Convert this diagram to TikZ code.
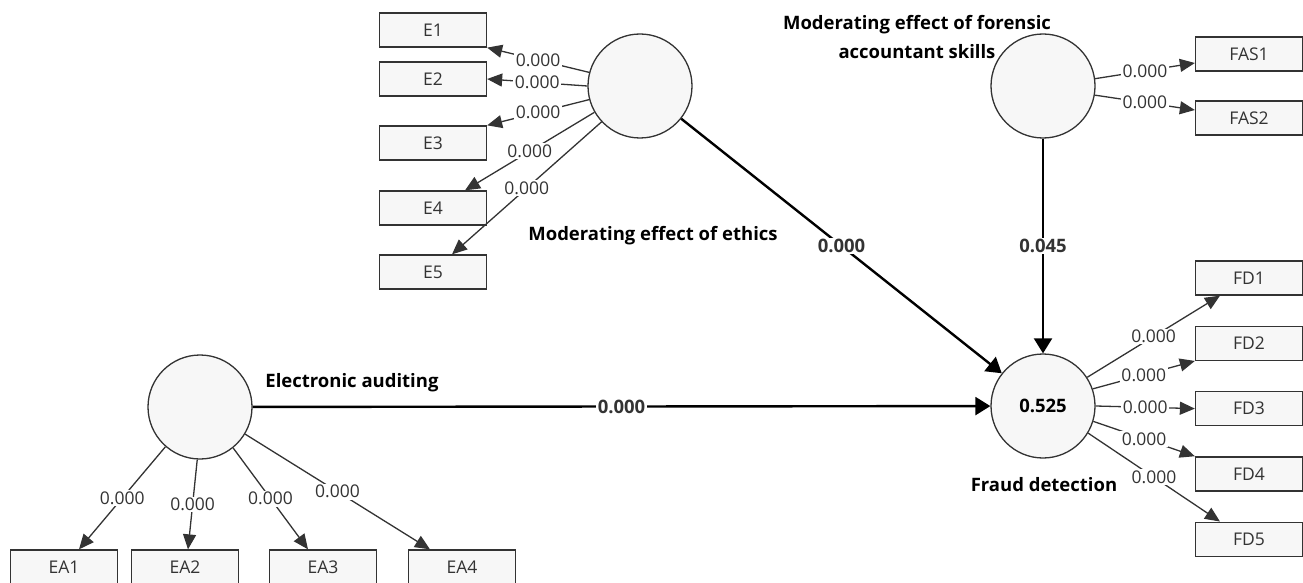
\documentclass[tikz,border=0pt]{standalone}
\usepackage{fontspec}
\setmainfont{Open Sans}
\usetikzlibrary{arrows.meta, positioning, calc}
\definecolor{linegray}{HTML}{333333}
\definecolor{shapefill}{HTML}{F7F7F7}
\tikzset{
    % Define style for latent variables
    latent/.style={
           circle,
           draw=linegray, line width=1.3pt,
           fill=shapefill,
           minimum size=104pt,
           inner sep=0pt,
           font=\fontsize{18.5}{22}\selectfont\bfseries},
    % Define style for indicator boxes
    ind/.style={
           rectangle,
           draw=linegray, line width=1.3pt,
           fill=shapefill,
           minimum width=107pt,
           minimum height=34pt,
           inner sep=0pt,
           text=black!80},
    % Define style for construct names
    tag/.style={
           font=\fontsize{18.5}{28.5}\selectfont\bfseries,
           align=center},
    % Define loading arrow style
    load/.style={
           -{Triangle[length=15pt,width=13pt]},
           line width=1.3pt,
           draw=linegray},
    % Define path arrow style
    struct/.style={
           -{Triangle[length=15pt,width=18pt]},
           line width=2.4pt},
    % Define coefficient labels
    coef/.style={
           fill=white,
           inner sep=1.5pt,
           text=black!80},
    pathcoef/.style={
           coef,
           font=\fontsize{18.5}{22}\selectfont\bfseries}
}
\begin{document}
\begin{tikzpicture}[x=1pt, y=-1pt, node distance=30pt, font=\fontsize{17.5}{21}\selectfont]
	\useasboundingbox (0,0) rectangle (1303,583);
	%
	% latent variables
	%
	\node[latent] (eth) at (640,86) {};
	\node[latent] (fas) at (1043,86) {};
	\node[latent] (ea) at (200,407) {};
	\node[latent] (fd) at (1043,406) {0.525};
	\node[tag] (ethname) at (653,236) {Moderating effect of ethics};
	\node[tag] (fasname) at (917,37) {Moderating effect of forensic\\accountant skills};
	\node[tag] (eaname) at (352,383) {Electronic auditing};
	\node[tag] (fdname) at (1044,485) {Fraud detection};
	%
	% indicators
	%
	\node[ind] (e1) at (433,30) {E1};
	\node[ind] (e2) at (433,79) {E2};
	\node[ind] (e3) at (433,143) {E3};
	\node[ind] (e4) at (433,208) {E4};
	\node[ind] (e5) at (433,272) {E5};
	\node[ind] (fas1) at (1249,54) {FAS1};
	\node[ind] (fas2) at (1249,118) {FAS2};
	\node[ind] (fd1) at (1249,278) {FD1};
	\node[ind, below=of fd1] (fd2) {FD2};
	\node[ind, below=of fd2] (fd3) {FD3};
	\node[ind, below=of fd3] (fd4) {FD4};
	\node[ind, below=of fd4] (fd5) {FD5};
	\node[ind] (ea1) at (64,567) {EA1};
	\node[ind] (ea2) at (185,567) {EA2};
	\node[ind] (ea3) at (323,567) {EA3};
	\node[ind] (ea4) at (462,567) {EA4};
	%
	% loadings
	%
	\draw[load] (eth.165) -- node[coef] {0.000} (e1.south east);
	\draw[load] (eth.180) -- node[coef] {0.000} (e2.east);
	\draw[load] (eth.195) -- node[coef] {0.000} (e3.north east);
	\draw[load] (eth.210) -- node[coef] {0.000} ([xshift=32pt]e4.north);
	\draw[load] (eth.223) -- node[coef] {0.000} ([xshift=19pt]e5.north);
	\draw[load] (fas.8) -- node[coef] {0.000} ([yshift=-9pt]fas1.west);
	\draw[load] (fas.-10) -- node[coef] {0.000} ([yshift=8pt]fas2.west);
	\draw[load] (fd.33) -- node[coef] {0.000} ([xshift=-29pt]fd1.south);
	\draw[load] (fd.19) -- node[coef] {0.000} (fd2.south west);
	\draw[load] (fd.east) -- node[coef] {0.000} (fd3.west);
	\draw[load] (fd.-17) -- node[coef] {0.000} (fd4.north west);
	\draw[load] (fd.-31) -- node[coef] {0.000} ([xshift=-29pt]fd5.north);
	\draw[load] (ea.229) -- node[coef] {0.000} ([xshift=15pt]ea1.north);
	\draw[load] (ea.267) -- node[coef] {0.000} ([xshift=3pt]ea2.north);
	\draw[load] (ea.309) -- node[coef] {0.000} ([xshift=-15pt]ea3.north);
	\draw[load] (ea.329) -- node[coef] {0.000} ([xshift=-32pt]ea4.north);
	%
	% paths
	%
	\draw[struct] (eth) -- node[pathcoef] {0.000} (fd);
	\draw[struct] (fas) -- node[pathcoef] {0.045} (fd);
	\draw[struct] (ea) -- node[pathcoef] {0.000} (fd);
\end{tikzpicture}
\end{document}
